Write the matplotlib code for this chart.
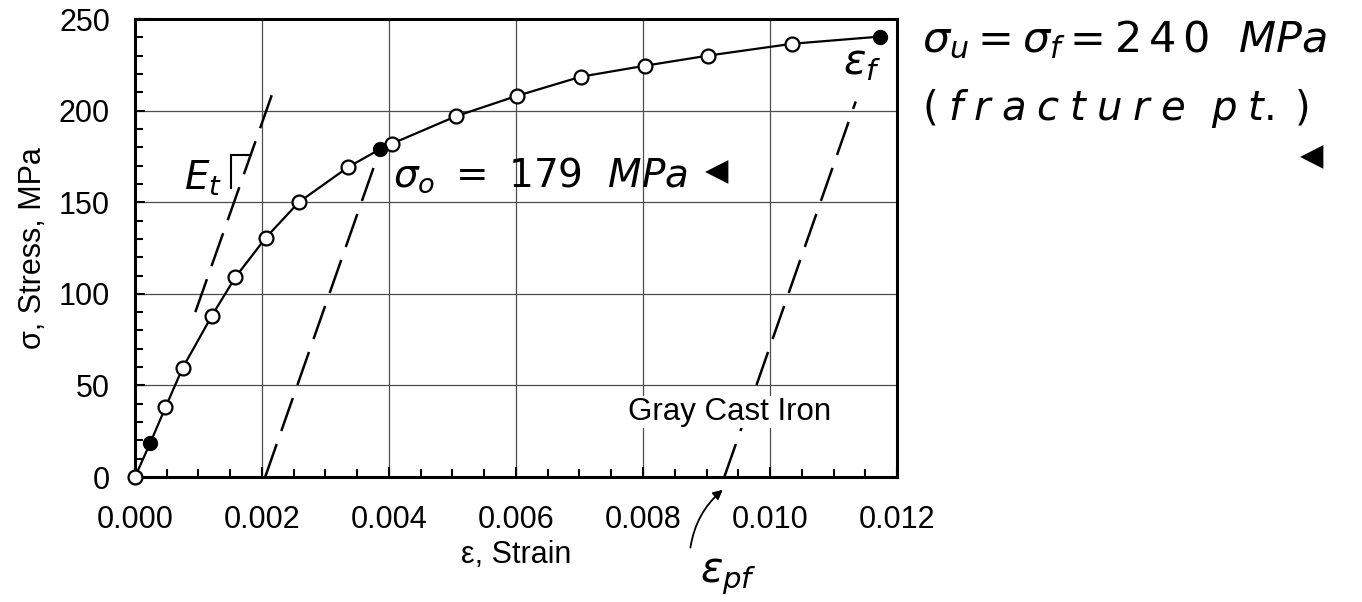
import matplotlib
matplotlib.use("Agg")
import matplotlib.pyplot as plt
from matplotlib.ticker import MultipleLocator

# 应力-应变数据（灰铸铁），空心点为测量点，实心点为标注点
strain_open = [0.0, 0.00048, 0.00075, 0.00121, 0.00158, 0.00206, 0.00258,
               0.00335, 0.00405, 0.00506, 0.00601, 0.00702, 0.00803, 0.00902, 0.01035]
stress_open = [0, 38, 59.5, 88, 109, 130.6, 150, 169, 182, 197, 208, 218.5, 224.5, 230, 236.5]
strain_all = [0.0, 0.00024, 0.00048, 0.00075, 0.00121, 0.00158, 0.00206, 0.00258,
              0.00335, 0.00386, 0.00405, 0.00506, 0.00601, 0.00702, 0.00803, 0.00902,
              0.01035, 0.01173]
stress_all = [0, 18.6, 38, 59.5, 88, 109, 130.6, 150, 169, 179, 182, 197, 208,
              218.5, 224.5, 230, 236.5, 240.4]
strain_filled = [0.00024, 0.00386, 0.01173]
stress_filled = [18.6, 179, 240.4]

# 虚线：切线模量、偏移线、卸载线
tangent_x = [0.00095, 0.00219]
tangent_y = [90, 212]
offset_x = [0.00205, 0.00386]
offset_y = [0, 179]
unload_x = [0.00928, 0.01135]
unload_y = [0, 205]

xticks = [0.000, 0.002, 0.004, 0.006, 0.008, 0.010, 0.012]
yticks = [0, 50, 100, 150, 200, 250]

plt.rcParams["font.family"] = ["Liberation Sans", "DejaVu Sans"]
plt.rcParams["mathtext.fontset"] = "dejavusans"

fig = plt.figure(figsize=(13.62, 6.02), dpi=100)
ax = fig.add_axes([0.0991, 0.2076, 0.5595, 0.7608])

ax.set_xlim(0, 0.012)
ax.set_ylim(0, 250)
ax.grid(True, which="major", color="0.3", linewidth=0.9)
ax.set_axisbelow(True)

ax.plot(strain_all, stress_all, color="black", linewidth=1.6, zorder=3, clip_on=False)
ax.plot(strain_open, stress_open, "o", markersize=10, markerfacecolor="white",
        markeredgecolor="black", markeredgewidth=1.6, zorder=4, clip_on=False)
ax.plot(strain_filled, stress_filled, "o", markersize=10, color="black", zorder=4, clip_on=False)

dash = dict(color="black", linewidth=1.8, linestyle=(0, (14, 5.5)), zorder=5)
ax.plot(tangent_x, tangent_y, **dash)
ax.plot(offset_x, offset_y, **dash)
ax.plot(unload_x, unload_y, **dash)

ax.set_xticks(xticks)
ax.set_yticks(yticks)
ax.set_xticklabels([f"{v:.3f}" for v in xticks])
ax.xaxis.set_minor_locator(MultipleLocator(0.0005))
ax.yaxis.set_minor_locator(MultipleLocator(10))
ax.tick_params(which="both", direction="in", top=False, right=False, width=1.5)
ax.tick_params(which="major", length=7.5, labelsize=22)
ax.tick_params(axis="x", which="major", pad=20)
ax.tick_params(axis="y", which="major", pad=18)
ax.tick_params(which="minor", length=5.5)
for s in ax.spines.values():
    s.set_linewidth(2.2)

ax.set_xlabel("ε, Strain", fontsize=22, labelpad=4)
ax.set_ylabel("σ, Stress, MPa", fontsize=22, labelpad=8)

# 图中说明文字
ax.text(0.00937, 35.5, "Gray Cast Iron", fontsize=22.5, ha="center", va="center",
        bbox=dict(facecolor="white", edgecolor="none", pad=1), zorder=6)

hand = dict(color="black")
ax.text(0.00107, 163, r"$E_t$", fontsize=28, ha="center", va="center", **hand)
ax.plot([0.00151, 0.00151], [158, 176], color="black", linewidth=1.5)
ax.plot([0.00151, 0.00180], [176, 176], color="black", linewidth=1.5)
ax.text(0.00406, 165, r"$\mathit{\sigma_o\ =\ 179\ \ MPa}$", fontsize=28,
        ha="left", va="center", **hand)
ax.text(0.00898, 166.7, "◀", fontsize=22, ha="left", va="center", family="DejaVu Sans")
ax.text(0.01145, 226, r"$\varepsilon_f$", fontsize=30, ha="center", va="center", **hand)

fig.text(0.677, 0.934, r"$\mathit{\sigma_u = \sigma_f = 2\,4\,0\ \ MPa}$", fontsize=31,
         ha="left", va="center", **hand)
fig.text(0.677, 0.819, r"$\mathit{(\;f\;r\;a\;c\;t\;u\;r\;e\ \ p\;t.\;)}$", fontsize=29,
         ha="left", va="center", **hand)
fig.text(0.9714, 0.739, "◀", fontsize=22, ha="right", va="center", family="DejaVu Sans")

ax.annotate("", xy=(0.00929, -6), xytext=(0.00874, -40), annotation_clip=False,
            arrowprops=dict(arrowstyle="-|>", color="black", lw=1.3,
                            connectionstyle="arc3,rad=-0.2", mutation_scale=14))
ax.text(0.00934, -54.6, r"$\varepsilon_{pf}$", fontsize=30, ha="center", va="center",
        clip_on=False, **hand)

fig.savefig("out.png", dpi=100)
